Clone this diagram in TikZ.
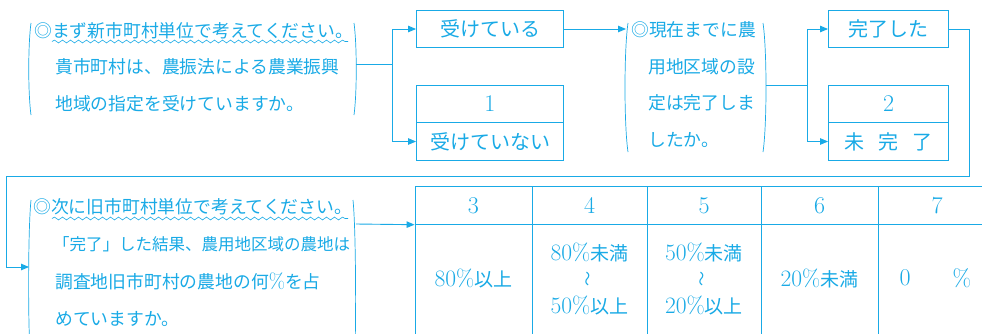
\documentclass[tikz,border=0pt]{standalone}
\usepackage{fontspec}
\newfontfamily\jp{Noto Sans CJK JP}
\usetikzlibrary{arrows.meta,decorations.pathmorphing}
\definecolor{cy}{RGB}{25,170,230}
\newcommand\dg[1]{{\rmfamily\fontsize{23.5}{23.5}\selectfont #1}}
\begin{document}
\begin{tikzpicture}[x=1pt,y=-1pt,
  every node/.style={text=cy, inner sep=0pt},
  qtext/.style={anchor=west, font=\jp\fontsize{17.8}{17.8}\selectfont},
  boxtext/.style={font=\jp\fontsize{20}{20}\selectfont},
  num/.style={font=\rmfamily\fontsize{24}{24}\selectfont},
  ttext/.style={font=\jp\fontsize{19}{19}\selectfont},
  cell/.style={draw=cy, line width=0.9pt, minimum height=37.5pt},
  ln/.style={draw=cy, line width=0.9pt},
  arr/.style={ln, -{Triangle[length=8pt,width=6.5pt]}},
  paren/.style={draw=cy, line width=0.7pt},
  wave/.style={draw=cy, line width=0.6pt, decorate,
    decoration={snake, segment length=8pt, amplitude=1.4pt}}]
\useasboundingbox (0,0) rectangle (982,333);
\clip (0,0) rectangle (982,333);
\fill[white] (0,0) rectangle (982,333);

% ---------- group 1 ----------
\draw[paren] (31,23) .. controls (28,45) and (28,93) .. (31,115);
\draw[paren] (354,23) .. controls (357,45) and (357,93) .. (354,115);
\node[qtext] (g1a) at (34,31) {◎まず新市町村単位で考えてください。};
\node[qtext] (g1b) at (55,67) {貴市町村は、農振法による農業振興};
\node[qtext] (g1c) at (55,104) {地域の指定を受けていますか。};
\draw[wave] (52,41.5) -- (348,41.5);

\node[cell, minimum width=147pt, boxtext] (b1) at (490,29) {受けている};
\node[cell, minimum width=147pt, num] (b2t) at (490,104) {1};
\node[cell, minimum width=147pt, boxtext] (b2b) at (490,141.5) {受けていない};

\coordinate (p1r) at (356,64);
\coordinate (j1) at (392,64);
\draw[ln] (p1r) -- (j1);
\draw[arr] (j1) |- (b1.west);
\draw[arr] (j1) |- (b2b.west);

% ---------- group 2 ----------
\coordinate (p2l) at (626,29);
\draw[arr] (b1.east) -- (p2l);
\draw[paren] (628,23) .. controls (624,50) and (624,125) .. (628,152);
\draw[paren] (763,23) .. controls (767,50) and (767,125) .. (763,152);
\node[qtext] (g2a) at (631,30) {◎現在までに農};
\node[qtext] (g2b) at (648,67) {用地区域の設};
\node[qtext] (g2c) at (648,103) {定は完了しま};
\node[qtext] (g2d) at (648,140) {したか。};

\node[cell, minimum width=120pt, boxtext] (b3) at (888.5,29) {完了した};
\node[cell, minimum width=120pt, num] (b4t) at (888.5,104) {2};
\node[cell, minimum width=120pt, boxtext] (b4b) at (888.5,141.5) {未\hspace{14pt}完\hspace{14pt}了};

\coordinate (p2r) at (766,85);
\coordinate (j2) at (807,85);
\draw[ln] (p2r) -- (j2);
\draw[arr] (j2) |- (b3.west);
\draw[arr] (j2) |- (b4b.west);

% ---------- loop back ----------
\coordinate (l1) at (969,176);
\coordinate (l2) at (6,176);
\coordinate (p3l) at (29,267);
\draw[arr] (b3.east) -| (l1) -- (l2) |- (p3l);

% ---------- group 3 ----------
\draw[paren] (31,200) .. controls (28,230) and (28,320) .. (30,350);
\draw[paren] (353,200) .. controls (356,230) and (356,320) .. (355,350);
\node[qtext] (g3a) at (33,207) {◎次に旧市町村単位で考えてください。};
\node[qtext, font=\jp\fontsize{16.5}{16.5}\selectfont] (g3b) at (53,244) {「完了」した結果、農用地区域の農地は};
\node[qtext] (g3c) at (55,281) {調査地旧市町村の農地の何{\rmfamily\fontsize{21}{21}\selectfont\%}を占};
\node[qtext] (g3d) at (55,319) {めていますか。};
\draw[wave] (52,218.5) -- (348,218.5);

% ---------- table ----------
\node[cell, minimum width=117pt, num] (h3) at (473.5,205.5) {3};
\node[cell, minimum width=115pt, num] (h4) at (589.5,205.5) {4};
\node[cell, minimum width=114pt, num] (h5) at (704,205.5) {5};
\node[cell, minimum width=117pt, num] (h6) at (819.5,205.5) {6};
\node[cell, minimum width=118pt, num] (h7) at (937,205.5) {7};
\node[cell, minimum width=117pt, minimum height=126pt] (c3) at (473.5,287) {};
\node[cell, minimum width=115pt, minimum height=126pt] (c4) at (589.5,287) {};
\node[cell, minimum width=114pt, minimum height=126pt] (c5) at (704,287) {};
\node[cell, minimum width=117pt, minimum height=126pt] (c6) at (819.5,287) {};
\node[cell, minimum width=118pt, minimum height=126pt] (c7) at (937,287) {};

\coordinate (p3r) at (356,224);
\draw[arr] (p3r) -- (h3.south west);

\node[ttext] (t3) at (473.5,278) {\dg{80\%}以上};
\node[ttext] (t4a) at (589.5,252) {\dg{80\%}未満};
\node[ttext, rotate=90, font=\jp\fontsize{15}{15}\selectfont] (t4b) at (589.5,279) {〜};
\node[ttext] (t4c) at (589.5,305) {\dg{50\%}以上};
\node[ttext] (t5a) at (704,252) {\dg{50\%}未満};
\node[ttext, rotate=90, font=\jp\fontsize{15}{15}\selectfont] (t5b) at (704,279) {〜};
\node[ttext] (t5c) at (704,305) {\dg{20\%}以上};
\node[ttext] (t6) at (819.5,278) {\dg{20\%}未満};
\node[num] (t7a) at (905,278) {0};
\node[num] (t7b) at (962,278) {\%};
\end{tikzpicture}
\end{document}
